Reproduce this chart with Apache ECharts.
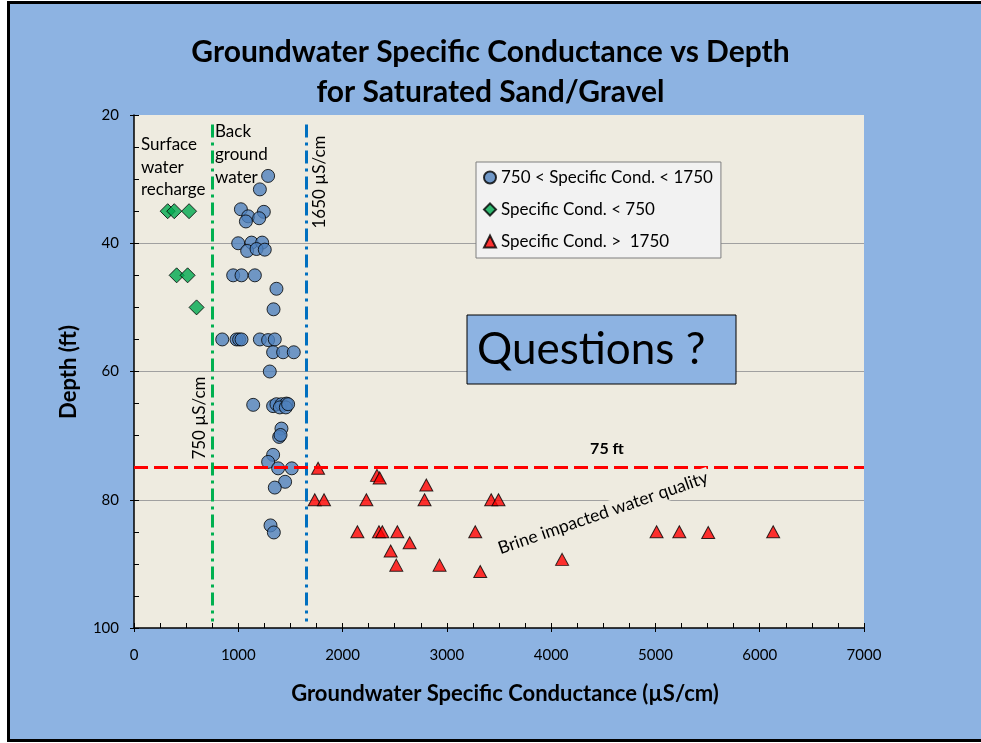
<!DOCTYPE html>
<html>
<head>
<meta charset="utf-8">
<script src="https://cdn.jsdelivr.net/npm/echarts@6/dist/echarts.min.js"></script>
<style>
  html, body { margin: 0; padding: 0; background: #ffffff; }
  #frame { position: absolute; left: 7px; top: 1px; width: 1000px; height: 741px;
           box-sizing: border-box; border: 3px solid #000; background: #8DB3E2; }
  #chart { position: absolute; left: 0; top: 0; width: 981px; height: 743px; }
</style>
</head>
<body>
<div id="frame"></div>
<div id="chart"></div>
<script>
// Specific conductance (µS/cm) and depth (ft) of groundwater samples
const circlePts = [
  [1286, 29.5], [1207, 31.6], [1025, 34.7], [1245, 35.1], [1095, 35.8], [1200, 36.1], [1073, 36.6],
  [999, 40], [1127, 39.9], [1229, 39.9], [1085, 41.2], [1175, 40.9], [1254, 41],
  [951, 45], [1031, 45], [1159, 45],
  [1366, 47.1], [1338, 50.3],
  [846, 55], [983, 55], [1008, 55], [1031, 55], [1207, 55], [1286, 55.1], [1350, 55],
  [1334, 57], [1430, 57], [1532, 57],
  [1302, 60],
  [1143, 65.2], [1334, 65.4], [1366, 65.1], [1414, 65.1], [1462, 65], [1398, 65.6], [1456, 65.6], [1478, 65.1],
  [1414, 68.9], [1392, 70.2], [1405, 69.9],
  [1334, 73], [1286, 74.1],
  [1382, 75.1], [1513, 75.1],
  [1449, 77.2], [1350, 78.1],
  [1309, 84], [1341, 85.1]
];
const diamondPts = [
  [323, 35], [386, 35], [528, 35],
  [409, 45], [514, 45],
  [600, 50]
];
const trianglePts = [
  [1765, 75.1], [2330, 76.2], [2356, 76.6], [2803, 77.7],
  [1733, 80], [1822, 80], [2228, 80], [2786, 80], [3425, 80], [3495, 80],
  [2142, 85], [2349, 85], [2381, 85], [2525, 85], [3272, 85],
  [2643, 86.7], [2461, 88], [2515, 90.2], [2930, 90.2], [3320, 91.2], [4105, 89.3],
  [5011, 85], [5229, 85], [5506, 85.1], [6129, 85]
];
// Reference thresholds
const surfaceLimit = 750;      // µS/cm
const backgroundLimit = 1650;  // µS/cm
const brineDepth = 75;         // ft

const seriesNames = ['750 < Specific Cond. < 1750', 'Specific Cond. < 750', 'Specific Cond. >  1750'];
const xRange = [0, 7000, 1000];
const yRange = [20, 100, 20];

const FONT = 'Lato';
const chart = echarts.init(document.getElementById('chart'), null, { renderer: 'canvas' });

const markerBorder = { borderColor: '#000', borderWidth: 1 };
const plainNumber = v => String(v);

chart.setOption({
  backgroundColor: 'transparent',
  textStyle: { fontFamily: FONT, color: '#000' },
  title: {
    text: 'Groundwater Specific Conductance vs Depth\nfor Saturated Sand/Gravel',
    left: 'center', top: 27,
    textStyle: { fontFamily: FONT, fontSize: 30, fontWeight: 'bold', color: '#000', lineHeight: 40 }
  },
  grid: {
    left: 134, right: 117, top: 115, bottom: 115,
    show: true, backgroundColor: '#EEEBE0', borderWidth: 0
  },
  legend: {
    data: seriesNames,
    orient: 'vertical', left: 476, top: 162,
    backgroundColor: '#F2F2F2', borderColor: '#7F7F7F', borderWidth: 1,
    padding: [7, 8, 8, 7], itemGap: 15, itemWidth: 12, itemHeight: 12,
    textStyle: { fontFamily: FONT, fontSize: 17, color: '#000' }
  },
  xAxis: [{
    type: 'value', min: xRange[0], max: xRange[1], interval: xRange[2],
    axisLine: { show: true, lineStyle: { color: '#000', width: 1.5 } },
    axisTick: { show: true, inside: true, length: 5, lineStyle: { color: '#000' } },
    minorTick: { show: true, splitNumber: 4, length: 5, lineStyle: { color: '#000' } },
    axisLabel: { fontFamily: FONT, fontSize: 15, color: '#000', margin: 20, formatter: plainNumber },
    splitLine: { show: false }
  }, {
    type: 'value', min: xRange[0], max: xRange[1], interval: xRange[2], position: 'bottom',
    axisLine: { show: false },
    axisTick: { show: true, inside: false, length: 4, lineStyle: { color: '#000' } },
    axisLabel: { show: false }, splitLine: { show: false }
  }],
  yAxis: [{
    type: 'value', inverse: true, min: yRange[0], max: yRange[1], interval: yRange[2],
    axisLine: { show: true, lineStyle: { color: '#000', width: 1.5 } },
    axisTick: { show: true, inside: true, length: 5, lineStyle: { color: '#000' } },
    minorTick: { show: true, splitNumber: 4, length: 5, lineStyle: { color: '#000' } },
    axisLabel: { fontFamily: FONT, fontSize: 15, color: '#000', margin: 15, formatter: plainNumber },
    splitLine: { show: true, showMinLine: false, showMaxLine: false, lineStyle: { color: '#A0A0A0', width: 1.2 } }
  }, {
    type: 'value', inverse: true, min: yRange[0], max: yRange[1], interval: yRange[2], position: 'left',
    axisLine: { show: false },
    axisTick: { show: true, inside: false, length: 4, lineStyle: { color: '#000' } },
    axisLabel: { show: false }, splitLine: { show: false }
  }],
  series: [
    {
      name: seriesNames[0], type: 'scatter', data: circlePts,
      symbol: 'circle', symbolSize: 13,
      itemStyle: Object.assign({ color: '#4F81BD' }, markerBorder)
    },
    {
      name: seriesNames[1], type: 'scatter', data: diamondPts,
      symbol: 'diamond', symbolSize: 15,
      itemStyle: Object.assign({ color: '#00A94F' }, markerBorder)
    },
    {
      name: 'guides', type: 'scatter', data: [], silent: true,
      markLine: {
        silent: true, symbol: 'none', label: { show: false },
        data: [
          [{ coord: [surfaceLimit, 21.5], lineStyle: { color: '#00B050', width: 3, type: [13, 5, 3, 5] } },
           { coord: [surfaceLimit, 99] }],
          [{ coord: [backgroundLimit, 21.5], lineStyle: { color: '#0070C0', width: 3, type: [13, 5, 3, 5] } },
           { coord: [backgroundLimit, 99] }],
          { yAxis: brineDepth, lineStyle: { color: '#FF0000', width: 3, type: [14, 6] } }
        ]
      }
    },
    {
      name: seriesNames[2], type: 'scatter', data: trianglePts,
      symbol: 'triangle', symbolSize: [13, 12],
      itemStyle: Object.assign({ color: '#FF0000' }, markerBorder)
    }
  ],
  graphic: [
    { type: 'text', z: 100, x: 141, y: 167.5,
      style: { text: 'Surface\nwater\nrecharge', fontFamily: FONT, fontSize: 17, lineHeight: 22.5,
               fill: '#000', textAlign: 'left', textVerticalAlign: 'middle' } },
    { type: 'text', z: 100, x: 215, y: 155,
      style: { text: 'Back\nground\nwater', fontFamily: FONT, fontSize: 17, lineHeight: 23,
               fill: '#000', textAlign: 'left', textVerticalAlign: 'middle' } },
    { type: 'text', z: 100, x: 320, y: 182, rotation: Math.PI / 2,
      style: { text: '1650 µS/cm', fontFamily: FONT, fontSize: 17, fill: '#000',
               textAlign: 'center', textVerticalAlign: 'middle' } },
    { type: 'text', z: 100, x: 200, y: 418, rotation: Math.PI / 2,
      style: { text: '750 µS/cm', fontFamily: FONT, fontSize: 17, fill: '#000',
               textAlign: 'center', textVerticalAlign: 'middle' } },
    { type: 'text', z: 100, x: 607, y: 449,
      style: { text: '75 ft', fontFamily: FONT, fontSize: 16, fontWeight: 'bold', fill: '#000',
               textAlign: 'center', textVerticalAlign: 'middle' } },
    { type: 'text', z: 100, x: 603, y: 513, rotation: 19 * Math.PI / 180,
      style: { text: 'Brine impacted water quality', fontFamily: FONT, fontSize: 17.5, fill: '#000',
               textAlign: 'center', textVerticalAlign: 'middle',
               backgroundColor: '#EEEBE0', padding: [1, 2] } },
    { type: 'rect', z: 100, shape: { x: 467, y: 315, width: 269, height: 69 },
      style: { fill: '#8DB3E2', stroke: '#000', lineWidth: 1 } },
    { type: 'text', z: 101, x: 477, y: 350,
      style: { text: 'Questions ?', fontFamily: FONT, fontSize: 44, fill: '#000',
               textAlign: 'left', textVerticalAlign: 'middle' } },
    { type: 'text', z: 100, x: 505, y: 694,
      style: { text: 'Groundwater Specific Conductance (µS/cm)', fontFamily: FONT, fontSize: 22,
               fontWeight: 'bold', fill: '#000', textAlign: 'center', textVerticalAlign: 'middle' } },
    { type: 'text', z: 100, x: 69, y: 372, rotation: Math.PI / 2,
      style: { text: 'Depth (ft)', fontFamily: FONT, fontSize: 22, fontWeight: 'bold', fill: '#000',
               textAlign: 'center', textVerticalAlign: 'middle' } }
  ]
});
</script>
</body>
</html>
